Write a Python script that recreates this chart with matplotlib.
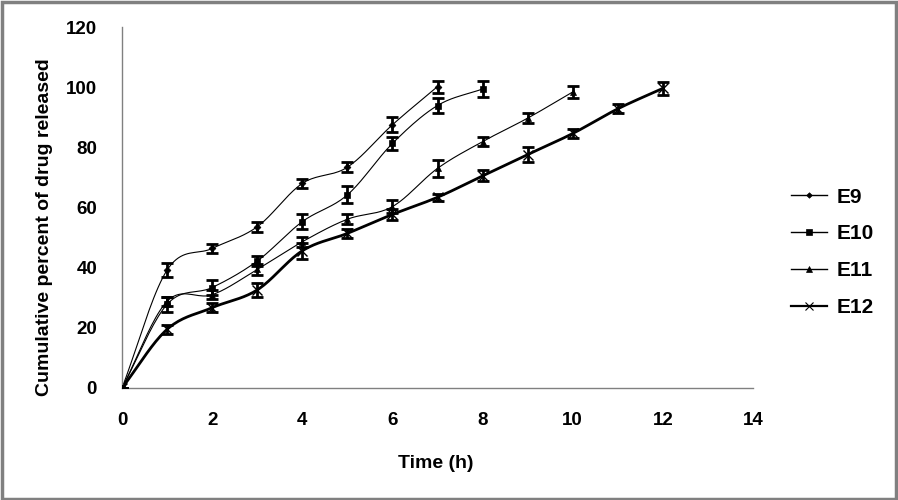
import numpy as np
import matplotlib
matplotlib.use("Agg")
import matplotlib.pyplot as plt
from matplotlib.patches import Rectangle

t9 = [0, 1, 2, 3, 4, 5, 6, 7]
e9 = [0, 39.2, 46.4, 53.6, 68.0, 73.4, 87.5, 100.2]
s9 = [0, 2.3, 1.6, 1.6, 1.4, 1.7, 2.5, 2.0]

t10 = [0, 1, 2, 3, 4, 5, 6, 7, 8]
e10 = [0, 27.8, 33.4, 42.2, 55.3, 64.2, 81.3, 93.9, 99.4]
s10 = [0, 2.4, 2.4, 1.7, 2.6, 2.8, 2.3, 2.4, 2.8]

t11 = [0, 1, 2, 3, 4, 5, 6, 7, 8, 9, 10]
e11 = [0, 28.8, 31.0, 39.4, 48.6, 56.1, 60.3, 73.0, 81.9, 89.7, 98.4]
s11 = [0, 1.5, 1.5, 1.9, 1.6, 1.6, 2.1, 2.8, 1.6, 1.6, 2.0]

t12 = [0, 1, 2, 3, 4, 5, 6, 7, 8, 9, 10, 11, 12]
e12 = [0, 19.5, 26.7, 32.6, 45.6, 51.4, 57.7, 63.4, 70.5, 77.6, 84.6, 92.8, 99.6]
s12 = [0, 1.5, 1.5, 2.2, 2.7, 1.6, 1.8, 1.2, 1.8, 2.6, 1.5, 1.5, 2.1]

labels = ["E9", "E10", "E11", "E12"]
xticks = [0, 2, 4, 6, 8, 10, 12, 14]
yticks = [0, 20, 40, 60, 80, 100, 120]


def smooth(x, y, n=20):
    # Catmull-Rom style curve through the points (like Excel smoothed lines)
    x = np.asarray(x, float)
    y = np.asarray(y, float)
    P = np.column_stack([x, y])
    P = np.vstack([P[0] - (P[1] - P[0]), P, P[-1] + (P[-1] - P[-2])])
    out = []
    for i in range(1, len(P) - 2):
        p0, p1, p2, p3 = P[i - 1], P[i], P[i + 1], P[i + 2]
        for s in np.linspace(0, 1, n, endpoint=False):
            b1 = p1 + (p2 - p0) / 6
            b2 = p2 - (p3 - p1) / 6
            pt = ((1 - s) ** 3) * p1 + 3 * ((1 - s) ** 2) * s * b1 + 3 * (1 - s) * s ** 2 * b2 + s ** 3 * p2
            out.append(pt)
    out.append(P[-2])
    out = np.array(out)
    return out[:, 0], out[:, 1]


plt.rcParams['font.family'] = ['Liberation Sans', 'DejaVu Sans']
fig = plt.figure(figsize=(8.98, 5.0), dpi=100)
ax = fig.add_axes([0.1359, 0.224, 0.7026, 0.722])

series = [
    (t9, e9, s9, 'D', 3.5, 0.8),
    (t10, e10, s10, 's', 5, 0.8),
    (t11, e11, s11, '^', 5, 0.8),
    (t12, e12, s12, 'x', 7, 2.0),
]
handles = []
for (t, e, s, m, ms, lw), lab in zip(series, labels):
    xs, ys = smooth(t, e)
    ax.plot(xs, ys, color='black', lw=lw, zorder=2)
    ax.errorbar(t, e, yerr=s, fmt='none', ecolor='black', elinewidth=2,
                capsize=4.5, capthick=2, zorder=3)
    ax.plot(t, e, ls='none', marker=m, ms=ms, color='black', mew=1 if m == 'x' else 0.5, zorder=4)
    h, = ax.plot([], [], color='black', lw=1.0 if m != 'x' else 1.6, marker=m,
                 ms=ms * 0.8 if m != 'x' else 6, mew=0.8 if m == 'x' else 0.5)
    handles.append(h)

ax.set_xlim(0, 14)
ax.set_ylim(0, 120)
ax.set_xticks(xticks)
ax.set_yticks(yticks)
ax.tick_params(axis='y', length=0, labelsize=13.5, pad=18)
ax.tick_params(axis='x', length=0, labelsize=13.5, pad=17)
for lbl in ax.get_xticklabels() + ax.get_yticklabels():
    lbl.set_fontweight('bold')
for sp in ['top', 'right']:
    ax.spines[sp].set_visible(False)
for sp in ['left', 'bottom']:
    ax.spines[sp].set_color('#808080')
    ax.spines[sp].set_linewidth(1)
ax.set_xlabel('Time (h)', fontsize=14, fontweight='bold')
ax.set_ylabel('Cumulative percent of drug released', fontsize=14, fontweight='bold')
ax.xaxis.set_label_coords(0.497, -0.185)
ax.yaxis.set_label_coords(-0.11, 0.446)

leg = fig.legend(handles, labels, loc='upper left', bbox_to_anchor=(0.86, 0.662),
                 frameon=False, handlelength=1.75, labelspacing=0.85,
                 handletextpad=0.45, prop={'weight': 'bold', 'size': 15})

fig.patches.append(Rectangle((0.002, 0.003), 0.996, 0.994, transform=fig.transFigure,
                             fill=False, edgecolor='#808080', lw=2.5))
fig.savefig('out.png', dpi=100)
